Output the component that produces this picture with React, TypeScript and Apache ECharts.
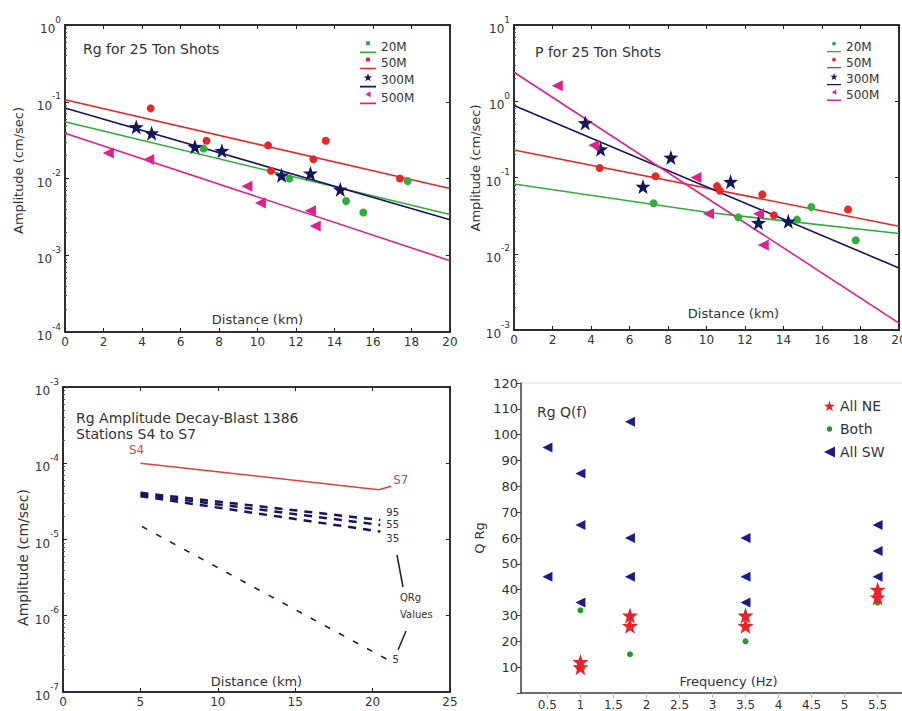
import React, { useEffect, useRef } from "react";
import * as echarts from "echarts";

// ---------- DATA ----------
// Panel 1: Rg for 25 Ton Shots (distance km, amplitude cm/sec)
const rg20Dist = [7.2, 11.65, 14.6, 15.5, 17.8];
const rg20Amp = [0.0245, 0.01, 0.0051, 0.0036, 0.0093];
const rg50Dist = [4.45, 7.35, 10.55, 10.7, 12.9, 13.55, 17.4];
const rg50Amp = [0.082, 0.031, 0.027, 0.0126, 0.0178, 0.031, 0.01];
const rg300Dist = [3.7, 4.5, 6.75, 8.15, 11.25, 12.75, 14.3];
const rg300Amp = [0.047, 0.039, 0.026, 0.023, 0.011, 0.0117, 0.0072];
const rg500Dist = [2.25, 4.35, 9.45, 10.15, 12.75, 13.0];
const rg500Amp = [0.0215, 0.0177, 0.0079, 0.0048, 0.0038, 0.0024];
const rgFitDist = [0, 20];
const rg20FitAmp = [0.055, 0.0034];
const rg50FitAmp = [0.106, 0.0074];
const rg300FitAmp = [0.083, 0.0029];
const rg500FitAmp = [0.039, 0.00085];

// Panel 2: P for 25 Ton Shots
const p20Dist = [7.25, 11.65, 14.7, 15.45, 17.75];
const p20Amp = [0.046, 0.03, 0.028, 0.041, 0.015];
const p50Dist = [4.45, 7.35, 10.55, 10.7, 12.9, 13.5, 17.35];
const p50Amp = [0.133, 0.104, 0.077, 0.067, 0.06, 0.032, 0.038];
const p300Dist = [3.7, 4.5, 6.7, 8.15, 11.25, 12.7, 14.25];
const p300Amp = [0.52, 0.235, 0.076, 0.183, 0.088, 0.0255, 0.0266];
const p500Dist = [2.25, 4.15, 9.45, 10.1, 12.7, 12.95];
const p500Amp = [1.6, 0.265, 0.1, 0.0335, 0.0335, 0.013];
const pFit20Dist = [0, 10, 20];
const p20FitAmp = [0.082, 0.035, 0.0184];
const pFitDist = [0, 20];
const p50FitAmp = [0.23, 0.023];
const p300FitAmp = [0.88, 0.0065];
const p500FitAmp = [2.4, 0.00123];

// Panel 3: Rg amplitude decay, blast 1386
const s4s7Dist = [5, 20.4, 21.2];
const s4s7Amp = [1.0e-4, 4.5e-5, 5.0e-5];
const qDist = [5, 20.5];
const q95Amp = [4.1e-5, 1.8e-5];
const q55Amp = [3.9e-5, 1.55e-5];
const q35Amp = [3.7e-5, 1.27e-5];
const q5Dist = [5.1, 20.9];
const q5Amp = [1.48e-5, 2.7e-7];

// Panel 4: Rg Q(f)
const freqTicks = [0.5, 1, 1.5, 2, 2.5, 3, 3.5, 4, 4.5, 5, 5.5];
const swFreq = [0.5, 0.5, 1, 1, 1, 1.75, 1.75, 1.75, 3.5, 3.5, 3.5, 5.5, 5.5, 5.5];
const swQ = [95, 45, 85, 65, 35, 105, 60, 45, 60, 45, 35, 65, 55, 45];
const neFreq = [1, 1, 1.75, 1.75, 3.5, 3.5, 5.5, 5.5];
const neQ = [10, 12, 30, 26, 30, 26, 40, 37];
const bothFreq = [1, 1.75, 3.5, 5.5];
const bothQ = [32, 15, 20, 35];

// ---------- STYLE ----------
const FONT = "DejaVu Sans, Liberation Sans, sans-serif";
const TXT = "#333";
const AX = "#222";
const GREEN = "#2fae3c";
const RED = "#e62828";
const NAVY = "#15155e";
const MAGENTA = "#e0208c";
const BLUE4 = "#1c1c86";
const GREEN4 = "#1f9a30";

const STAR = "path://M50 0L61.76 33.82L97.55 34.55L69.02 56.18L79.39 90.45L50 70L20.61 90.45L30.98 56.18L2.45 34.55L38.24 33.82Z";
const LEFT_TRI = "path://M0 50L100 0L100 100Z";
const LINE_PART = "M0 80L100 80L100 90L0 90Z";
const ICON_CIRCLE = "path://M36 28A14 14 0 1 0 64 28A14 14 0 1 0 36 28Z" + LINE_PART;
const ICON_STAR = "path://M50 2L56.5 20.8L76.3 21.2L60.6 33L66.3 51.9L50 41L33.7 51.9L39.4 33L23.7 21.2L43.5 20.8Z" + LINE_PART;
const ICON_TRI = "path://M34 28L66 10L66 46Z" + LINE_PART;
const ICON_DOT = "path://M0 0L0.5 0L0 0.5ZM100 100L99.5 100L100 99.5ZM26 50A24 24 0 1 0 74 50A24 24 0 1 0 26 50Z";

const zip = (xs: number[], ys: number[]) => xs.map((x, i) => [x, ys[i]]);

const logLabel = {
  margin: 4,
  formatter: (v: number) => `{b|10}{s|${Math.round(Math.log10(v))}}`,
  rich: {
    b: { fontSize: 12, fontFamily: FONT, color: TXT, lineHeight: 20, verticalAlign: "bottom" },
    s: { fontSize: 9, fontFamily: FONT, color: TXT, lineHeight: 10, verticalAlign: "top" },
  },
};

const axLine = { show: true, onZero: false, lineStyle: { color: AX, width: 1.5 } };
const tickIn = { show: true, inside: true, length: 4, lineStyle: { color: AX, width: 1 } };
const minorIn = { show: true, splitNumber: 9, length: 2, lineStyle: { color: "#555", width: 1 } };
const nameStyle = (size: number, padding?: number[]) => ({
  fontSize: size,
  fontFamily: FONT,
  color: TXT,
  padding: padding || [0, 0, 0, 0],
});

function bottomX(grid: number, min: number, max: number, interval: number, name: string, gap: number, pad?: number[]) {
  return {
    gridIndex: grid,
    type: "value",
    min,
    max,
    interval,
    position: "bottom",
    name,
    nameLocation: "middle",
    nameGap: gap,
    nameTextStyle: nameStyle(13, pad),
    axisLine: axLine,
    axisTick: tickIn,
    axisLabel: { fontSize: 12, margin: 4, color: TXT, fontFamily: FONT },
    splitLine: { show: false },
  };
}
function topX(grid: number, min: number, max: number, interval: number) {
  return {
    gridIndex: grid,
    type: "value",
    min,
    max,
    interval,
    position: "top",
    axisLine: axLine,
    axisTick: tickIn,
    axisLabel: { show: false },
    splitLine: { show: false },
  };
}
function leftLog(grid: number, min: number, max: number, gap: number, size: number, pad?: number[]) {
  return {
    gridIndex: grid,
    type: "log",
    logBase: 10,
    min,
    max,
    position: "left",
    name: "Amplitude (cm/sec)",
    nameLocation: "middle",
    nameRotate: 90,
    nameGap: gap,
    nameTextStyle: nameStyle(size, pad),
    axisLine: axLine,
    axisTick: tickIn,
    minorTick: minorIn,
    axisLabel: logLabel,
    splitLine: { show: false },
    minorSplitLine: { show: false },
  };
}
function rightLog(grid: number, min: number, max: number) {
  return {
    gridIndex: grid,
    type: "log",
    logBase: 10,
    min,
    max,
    position: "right",
    axisLine: axLine,
    axisTick: tickIn,
    axisLabel: { show: false },
    splitLine: { show: false },
  };
}

function sc(name: string, xs: number[], ys: number[], symbol: string, size: number, color: string, ax: number) {
  return {
    type: "scatter",
    name,
    xAxisIndex: ax,
    yAxisIndex: ax,
    symbol,
    symbolSize: size,
    itemStyle: { color, opacity: 1 },
    data: zip(xs, ys),
    z: 3,
  };
}
function fit(name: string, xs: number[], ys: number[], color: string, ax: number) {
  return {
    type: "line",
    name,
    xAxisIndex: ax,
    yAxisIndex: ax,
    showSymbol: false,
    symbol: "none",
    lineStyle: { color, width: 1.6 },
    itemStyle: { color },
    data: zip(xs, ys),
    z: 2,
  };
}
function dashed(name: string, xs: number[], ys: number[], width: number, dash: number[], label: string, offsetY: number) {
  return {
    type: "line",
    name,
    xAxisIndex: 2,
    yAxisIndex: 2,
    showSymbol: false,
    symbol: "none",
    lineStyle: { color: NAVY, width, type: dash },
    itemStyle: { color: NAVY },
    data: zip(xs, ys),
    endLabel: {
      show: true,
      formatter: label,
      distance: 6,
      offset: [0, offsetY],
      fontSize: 10,
      fontFamily: FONT,
      color: TXT,
    },
  };
}

const legendText = { fontSize: 12, fontFamily: FONT, color: TXT };

const option = {
  animation: false,
  backgroundColor: "#fff",
  textStyle: { fontFamily: FONT },
  title: [
    { text: "Rg for 25 Ton Shots", left: 78, top: 37, textStyle: { fontSize: 14, fontWeight: "normal", color: TXT, fontFamily: FONT } },
    { text: "P for 25 Ton Shots", left: 530, top: 40, textStyle: { fontSize: 14, fontWeight: "normal", color: TXT, fontFamily: FONT } },
    {
      text: "Rg Amplitude Decay-Blast 1386\nStations S4 to S7",
      left: 71,
      top: 405,
      textStyle: { fontSize: 14, lineHeight: 16, fontWeight: "normal", color: TXT, fontFamily: FONT },
    },
    { text: "Rg Q(f)", left: 532, top: 400, textStyle: { fontSize: 14, fontWeight: "normal", color: TXT, fontFamily: FONT } },
  ],
  legend: [
    {
      left: 355,
      top: 36,
      orient: "vertical",
      itemWidth: 16,
      itemHeight: 15,
      itemGap: 4,
      selectedMode: false,
      textStyle: legendText,
      data: [
        { name: "20M", icon: ICON_CIRCLE },
        { name: "50M", icon: ICON_CIRCLE },
        { name: "300M", icon: ICON_STAR },
        { name: "500M", icon: ICON_TRI },
      ],
    },
    {
      left: 822,
      top: 36,
      orient: "vertical",
      itemWidth: 14,
      itemHeight: 15,
      itemGap: 4,
      selectedMode: false,
      textStyle: legendText,
      data: [
        { name: "20M", icon: ICON_CIRCLE },
        { name: "50M", icon: ICON_CIRCLE },
        { name: "300M", icon: ICON_STAR },
        { name: "500M", icon: ICON_TRI },
      ],
    },
    {
      left: 819,
      top: 394,
      orient: "vertical",
      itemWidth: 11,
      itemHeight: 11,
      itemGap: 9,
      selectedMode: false,
      textStyle: { fontSize: 14, fontFamily: FONT, color: TXT },
      data: [
        { name: "All NE", icon: STAR },
        { name: "Both", icon: ICON_DOT },
        { name: "All SW", icon: LEFT_TRI },
      ],
    },
  ],
  grid: [
    { left: 65, top: 25, width: 385, height: 307, show: true, borderColor: AX, borderWidth: 1.5, outerBoundsMode: "none" },
    { left: 514, top: 25, width: 385, height: 305, show: true, borderColor: AX, borderWidth: 1.5, outerBoundsMode: "none" },
    { left: 63, top: 387, width: 387, height: 305, show: true, borderColor: AX, borderWidth: 1.5, outerBoundsMode: "none" },
    { left: 521, top: 383, width: 383, height: 310, show: true, borderColor: "#d8d8d8", borderWidth: 1, outerBoundsMode: "none" },
  ],
  xAxis: [
    bottomX(0, 0, 20, 2, "Distance (km)", -19),
    bottomX(1, 0, 20, 2, "Distance (km)", -23, [0, 0, 0, 54]),
    bottomX(2, 0, 25, 5, "Distance (km)", -17),
    {
      gridIndex: 3,
      type: "value",
      min: 0.1,
      max: 5.9,
      position: "bottom",
      name: "Frequency (Hz)",
      nameLocation: "middle",
      nameGap: -18,
      nameTextStyle: nameStyle(13, [0, 0, 0, 32]),
      axisLine: { show: true, onZero: false, lineStyle: { color: "#444", width: 1.5 } },
      axisTick: { show: false, customValues: freqTicks },
      axisLabel: { customValues: freqTicks, fontSize: 12, margin: 6, color: TXT, fontFamily: FONT },
      splitLine: { show: false },
    },
    topX(0, 0, 20, 2),
    topX(1, 0, 20, 2),
    topX(2, 0, 25, 5),
    {
      gridIndex: 3,
      type: "value",
      min: 0.1,
      max: 5.9,
      position: "top",
      axisLine: { show: false },
      axisTick: { show: true, inside: true, length: 5, customValues: freqTicks, lineStyle: { color: "#bbb" } },
      axisLabel: { show: false, customValues: freqTicks },
      splitLine: { show: false },
    },
  ],
  yAxis: [
    leftLog(0, 1e-4, 1, 40, 13, [0, 0, 0, 16]),
    leftLog(1, 1e-3, 10, 30, 13, [0, 0, 0, 19]),
    leftLog(2, 1e-7, 1e-3, 33, 14, [0, 36, 0, 0]),
    {
      gridIndex: 3,
      type: "value",
      min: 0,
      max: 120,
      interval: 10,
      position: "left",
      name: "Q Rg",
      nameLocation: "middle",
      nameRotate: 90,
      nameGap: 35,
      nameTextStyle: nameStyle(13),
      axisLine: { show: true, onZero: false, lineStyle: { color: "#444", width: 1.5 } },
      axisTick: { show: true, inside: false, length: 4, lineStyle: { color: "#444" } },
      axisLabel: {
        fontSize: 13,
        margin: 3,
        color: TXT,
        fontFamily: FONT,
        formatter: (v: number) => (v === 0 ? "" : String(v)),
      },
      splitLine: { show: false },
    },
    rightLog(0, 1e-4, 1),
    rightLog(1, 1e-3, 10),
    rightLog(2, 1e-7, 1e-3),
  ],
  series: [
    // Panel 1
    sc("20M", rg20Dist, rg20Amp, "circle", 8, GREEN, 0),
    sc("50M", rg50Dist, rg50Amp, "circle", 8, RED, 0),
    sc("300M", rg300Dist, rg300Amp, STAR, 15, NAVY, 0),
    sc("500M", rg500Dist, rg500Amp, LEFT_TRI, 11, MAGENTA, 0),
    fit("20M", rgFitDist, rg20FitAmp, GREEN, 0),
    fit("50M", rgFitDist, rg50FitAmp, RED, 0),
    fit("300M", rgFitDist, rg300FitAmp, NAVY, 0),
    fit("500M", rgFitDist, rg500FitAmp, MAGENTA, 0),
    // Panel 2
    sc("20M", p20Dist, p20Amp, "circle", 8, GREEN, 1),
    sc("50M", p50Dist, p50Amp, "circle", 8, RED, 1),
    sc("300M", p300Dist, p300Amp, STAR, 15, NAVY, 1),
    sc("500M", p500Dist, p500Amp, LEFT_TRI, 11, MAGENTA, 1),
    fit("20M", pFit20Dist, p20FitAmp, GREEN, 1),
    fit("50M", pFitDist, p50FitAmp, RED, 1),
    fit("300M", pFitDist, p300FitAmp, NAVY, 1),
    fit("500M", pFitDist, p500FitAmp, MAGENTA, 1),
    // Panel 3
    {
      type: "line",
      name: "S4-S7",
      xAxisIndex: 2,
      yAxisIndex: 2,
      showSymbol: false,
      symbol: "none",
      lineStyle: { color: "#e04040", width: 1.5 },
      itemStyle: { color: "#e04040" },
      data: zip(s4s7Dist, s4s7Amp),
      endLabel: { show: true, formatter: "S7", distance: 2, offset: [0, -6], fontSize: 12, fontFamily: FONT, color: "#d04848" },
    },
    dashed("Q 95", qDist, q95Amp, 2.5, [8, 7], "95", -8),
    dashed("Q 55", qDist, q55Amp, 2.5, [8, 7], "55", 0),
    dashed("Q 35", qDist, q35Amp, 2.5, [8, 7], "35", 7),
    dashed("Q 5", q5Dist, q5Amp, 1.5, [6, 10], "5", 0),
    // Panel 4
    sc("All SW", swFreq, swQ, LEFT_TRI, 10, BLUE4, 3),
    sc("Both", bothFreq, bothQ, "circle", 6, GREEN4, 3),
    sc("All NE", neFreq, neQ, STAR, 16, "#e8202a", 3),
  ],
  graphic: [
    { type: "text", left: 129, top: 444, style: { text: "S4", fontSize: 12, fontFamily: FONT, fill: "#d04848" } },
    { type: "text", left: 400, top: 592, style: { text: "QRg", fontSize: 10, fontFamily: FONT, fill: TXT } },
    { type: "text", left: 400, top: 609, style: { text: "Values", fontSize: 10, fontFamily: FONT, fill: TXT } },
    { type: "line", shape: { x1: 397, y1: 555, x2: 403, y2: 587 }, style: { stroke: "#222", lineWidth: 1.5 } },
    { type: "line", shape: { x1: 406, y1: 631, x2: 398, y2: 650 }, style: { stroke: "#222", lineWidth: 1.5 } },
  ],
};

export default function App() {
  const ref = useRef<HTMLDivElement>(null);
  useEffect(() => {
    document.body.style.margin = "0";
    if (!ref.current) return;
    const chart = echarts.init(ref.current, null, { renderer: "svg" });
    chart.setOption(option as any);
    return () => chart.dispose();
  }, []);
  return <div ref={ref} style={{ width: 902, height: 711 }} />;
}
